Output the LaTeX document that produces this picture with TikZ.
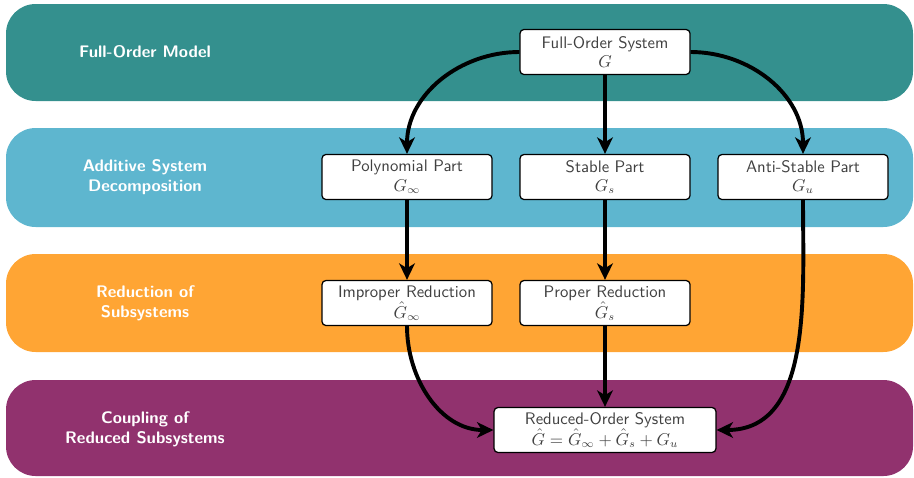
\documentclass[tikz,border=0pt]{standalone}
\usetikzlibrary{arrows.meta}
\definecolor{bandteal}{RGB}{52,144,142}
\definecolor{bandblue}{RGB}{94,182,207}
\definecolor{bandorange}{RGB}{255,165,52}
\definecolor{bandpurple}{RGB}{145,50,110}
\definecolor{boxtext}{RGB}{64,64,64}
\begin{document}
\begin{tikzpicture}[x=0.64pt,y=-0.64pt,
  band/.style={rounded corners=19pt},
  bandlabel/.style={text=white,align=center,
    font=\fontsize{10.7}{12.8}\selectfont\sffamily\bfseries},
  stage/.style={draw=black,fill=white,rounded corners=2.5pt,line width=0.8pt,
    minimum width=108.8pt,minimum height=28.8pt,inner sep=1pt,
    align=center,text=boxtext,font=\fontsize{10.7}{12.4}\selectfont\sffamily},
  flow/.style={line width=2.5pt,-{Stealth[length=10.5pt,width=10pt,inset=3pt]}}]
\useasboundingbox (0,0) rectangle (914,477);
% horizontal bands
\fill[band,bandteal]   (6,4)   rectangle (913,101);
\fill[band,bandblue]   (6,128) rectangle (913,227);
\fill[band,bandorange] (6,254) rectangle (913,352);
\fill[band,bandpurple] (6,380) rectangle (913,476);
% band titles
\node[bandlabel] (l1) at (145,52)  {Full-Order Model};
\node[bandlabel] (l2) at (145,177) {Additive System\\Decomposition};
\node[bandlabel] (l3) at (145,303) {Reduction of\\Subsystems};
\node[bandlabel] (l4) at (145,429) {Coupling of\\Reduced Subsystems};
% stages
\node[stage] (fos) at (605,52)  {Full-Order System\\$G$};
\node[stage] (pol) at (407,177) {Polynomial Part\\$G_\infty$};
\node[stage] (sta) at (605,177) {Stable Part\\$G_s$};
\node[stage] (ant) at (803,177) {Anti-Stable Part\\$G_u$};
\node[stage] (imp) at (407,303) {Improper Reduction\\$\hat{G}_\infty$};
\node[stage] (pro) at (605,303) {Proper Reduction\\$\hat{G}_s$};
\node[stage,minimum width=142pt] (rom) at (605,430)
  {Reduced-Order System\\$\hat{G}=\hat{G}_\infty+\hat{G}_s+G_u$};
% connectors
\draw[flow] (fos.west) to[out=180,in=90] (pol.north);
\draw[flow] (fos.south) -- (sta.north);
\draw[flow] (fos.east) to[out=0,in=90] (ant.north);
\draw[flow] (pol.south) -- (imp.north);
\draw[flow] (sta.south) -- (pro.north);
\draw[flow] (imp.south) to[out=-90,in=180] (rom.west);
\draw[flow] (pro.south) -- (rom.north);
\draw[flow] (ant.south) to[out=-90,in=0] (rom.east);
\end{tikzpicture}
\end{document}
